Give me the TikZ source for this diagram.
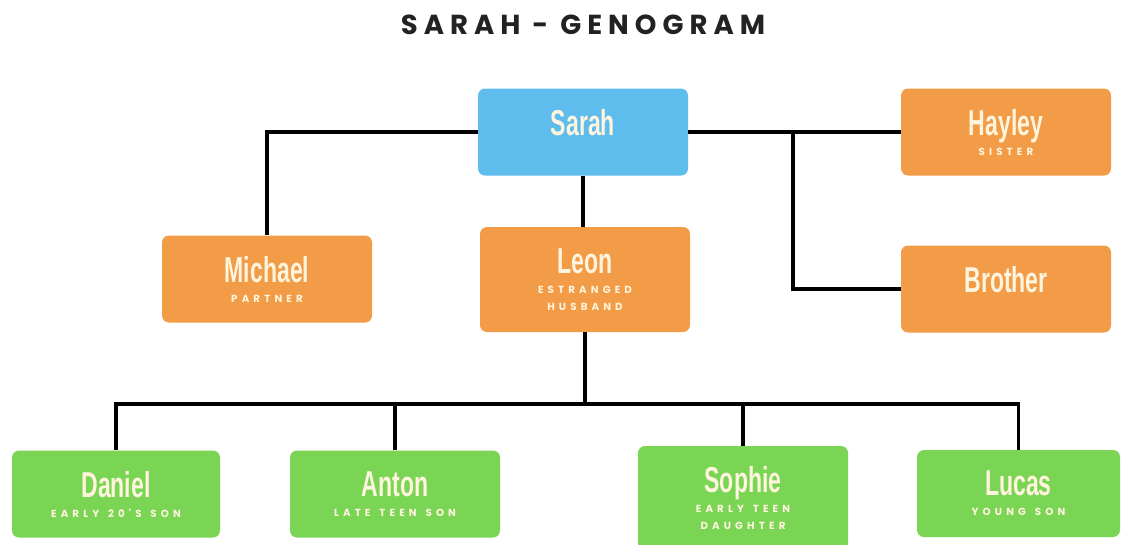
\documentclass[tikz,border=0pt]{standalone}
\usepackage{fontspec}
\setmainfont{Liberation Sans}
\newfontfamily\titlefont{Poppins}[LetterSpace=22]
\newfontfamily\subfont{Poppins}[LetterSpace=40, WordSpace=1.4]
\definecolor{boxorange}{HTML}{F29C47}
\definecolor{boxblue}{HTML}{5EBDEC}
\definecolor{boxgreen}{HTML}{79D553}
\definecolor{txtcream}{HTML}{FFF4DE}
\definecolor{titlegray}{HTML}{222222}
\newcommand\nm[1]{\scalebox{0.64}[1]{\fontsize{36}{36}\selectfont\bfseries #1}}
\newcommand\subl[1]{{\subfont\bfseries\fontsize{10.3}{17}\selectfont #1}}
\newcommand\tightlines{\lineskiplimit=-100pt\relax}
\tikzset{
  fbox/.style={rounded corners=7pt, inner sep=0pt, minimum width=210pt, minimum height=87pt,
     text=txtcream, align=center, font={\fontsize{30}{20}\selectfont\tightlines}},
  orange/.style={fbox, fill=boxorange},
  blue/.style={fbox, fill=boxblue},
  green/.style={fbox, fill=boxgreen},
  conn/.style={line width=3.6pt, draw=black}
}
\begin{document}
\begin{tikzpicture}[x=1pt,y=-1pt]
\useasboundingbox (0,0) rectangle (1121,544);
\node[font=\titlefont\bfseries\fontsize{27.5}{27.5}\selectfont, text=titlegray] (title) at (583,25) {SARAH - GENOGRAM};

\node[blue] (sarah) at (583,132) {\nm{Sarah}\\\subl{\phantom{X}}};
\node[orange] (hayley) at (1006,132) {\nm{Hayley}\\\subl{SISTER}};
\node[orange] (brother) at (1006,289) {\nm{Brother}\\\subl{\phantom{X}}};
\node[orange] (michael) at (267,279) {\nm{Michael}\\\subl{PARTNER}};
\node[orange, minimum height=105pt] (leon) at (585,279.5) {\nm{Leon}\\\subl{ESTRANGED}\\[-3pt]\subl{HUSBAND}};

\node[green, minimum width=208pt] (daniel) at (116,494) {\nm{Daniel}\\\subl{EARLY 20'S SON}};
\node[green] (anton) at (395,494) {\nm{Anton}\\\subl{LATE TEEN SON}};
\node[green, minimum height=104pt] (sophie) at (743,498) {\nm{Sophie}\\\subl{EARLY TEEN}\\[-3pt]\subl{DAUGHTER}};
\node[green, minimum width=203pt] (lucas) at (1018.5,493.5) {\nm{Lucas}\\\subl{YOUNG SON}};

\coordinate (brbranch) at (793,132);
\coordinate (bus) at (585,404);

\draw[conn] (sarah.west) -| (michael.north);
\draw[conn] (sarah.east) -- (hayley.west);
\draw[conn] (brbranch) |- (brother.west);
\draw[conn] (sarah.south) -- (sarah.south |- leon.north);
\draw[conn] (leon.south) -- (bus);
\draw[conn] (daniel.north) |- (bus) -| (lucas.north);
\draw[conn] (anton.north) -- (anton.north |- bus);
\draw[conn] (sophie.north) -- (sophie.north |- bus);
\end{tikzpicture}
\end{document}
